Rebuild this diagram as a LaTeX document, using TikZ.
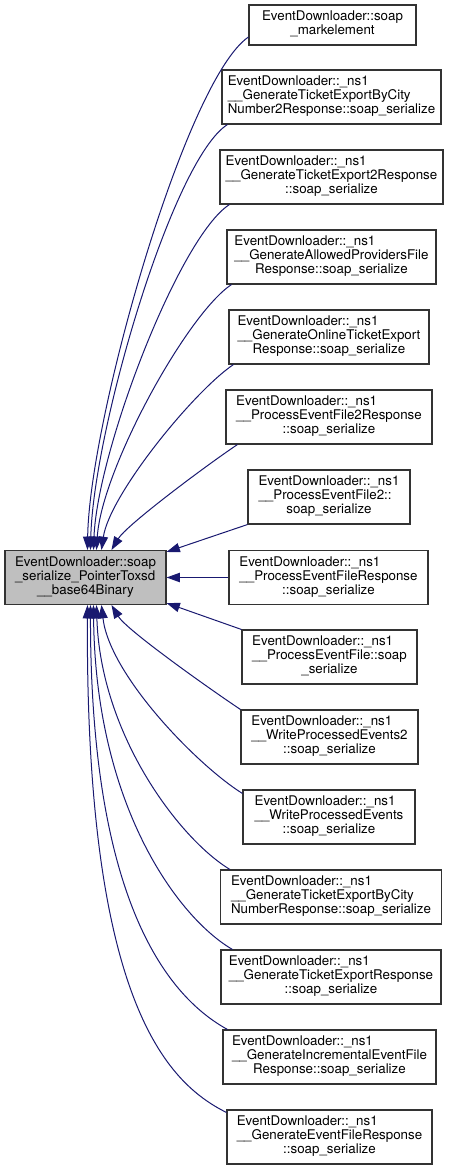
\documentclass[tikz,border=0pt]{standalone}
\usepackage{fontspec}
\setmainfont{TeX Gyre Heros}
\usetikzlibrary{arrows.meta,calc}
\definecolor{edgeblue}{HTML}{191970}
\definecolor{rootgray}{HTML}{BFBFBF}
\definecolor{boxline}{HTML}{333333}
\newcommand{\labthree}[3]{\begin{tabular}{@{}c@{}}\multicolumn{1}{@{}l@{}}{#1}\\\multicolumn{1}{@{}l@{}}{#2}\\#3\end{tabular}}
\newcommand{\evd}{EventDownloader::\_ns1}
\begin{document}
\begin{tikzpicture}[x=0.75pt,y=-0.75pt,
  box/.style={draw=boxline,line width=0.8pt,fill=white,inner sep=0pt,minimum height=40.5pt,font=\fontsize{10}{10.5}\selectfont},
  boxw/.style={minimum width=#1*0.75pt},
  conn/.style={draw=edgeblue,line width=0.75pt,-{Triangle[length=10pt,width=7pt]}}]
\useasboundingbox (0,0) rectangle (449,1171);

\node[box,boxw=161,fill=rootgray] (src) at (85.5,577.5) {\labthree{EventDownloader::soap}{\_serialize\_PointerToxsd}{\_\_base64Binary}};

\node[box,boxw=167,minimum height=30pt] (b1) at (332.5,25) {\begin{tabular}{@{}c@{}}EventDownloader::soap\\\_markelement\end{tabular}};
\node[box,boxw=219] (b2) at (331.5,97) {\labthree{\evd}{\_\_GenerateTicketExportByCity}{Number2Response::soap\_serialize}};
\node[box,boxw=223] (b3) at (331.5,177) {\labthree{\evd}{\_\_GenerateTicketExport2Response}{::soap\_serialize}};
\node[box,boxw=209] (b4) at (331.5,257) {\labthree{\evd}{\_\_GenerateAllowedProvidersFile}{Response::soap\_serialize}};
\node[box,boxw=200] (b5) at (329,337) {\labthree{\evd}{\_\_GenerateOnlineTicketExport}{Response::soap\_serialize}};
\node[box,boxw=206] (b6) at (329,417) {\labthree{\evd}{\_\_ProcessEventFile2Response}{::soap\_serialize}};
\node[box,boxw=162] (b7) at (329,497) {\labthree{\evd}{\_\_ProcessEventFile2::}{soap\_serialize}};
\node[box,boxw=199] (b8) at (328.5,577.5) {\labthree{\evd}{\_\_ProcessEventFileResponse}{::soap\_serialize}};
\node[box,boxw=175] (b9) at (329.5,657) {\labthree{\evd}{\_\_ProcessEventFile::soap}{\_serialize}};
\node[box,boxw=177] (b10) at (329.5,737) {\labthree{\evd}{\_\_WriteProcessedEvents2}{::soap\_serialize}};
\node[box,boxw=172] (b11) at (329,817) {\labthree{\evd}{\_\_WriteProcessedEvents}{::soap\_serialize}};
\node[box,boxw=221] (b12) at (331,897) {\labthree{\evd}{\_\_GenerateTicketExportByCity}{NumberResponse::soap\_serialize}};
\node[box,boxw=220] (b13) at (331,977) {\labthree{\evd}{\_\_GenerateTicketExportResponse}{::soap\_serialize}};
\node[box,boxw=213] (b14) at (329.5,1057) {\labthree{\evd}{\_\_GenerateIncrementalEventFile}{Response::soap\_serialize}};
\node[box,boxw=205] (b15) at (329.5,1137) {\labthree{\evd}{\_\_GenerateEventFileResponse}{::soap\_serialize}};

\draw[conn] ($(b1.west)+(0,12)$) .. controls +(-63,43) and +(2,-131) .. ($(src.north west)+(83,0)$);
\draw[conn] ($(b2.south west)+(6,0)$) .. controls +(-55,35) and +(3,-120) .. ($(src.north west)+(86,0)$);
\draw[conn] ($(b3.south west)+(10,0)$) .. controls +(-50,32) and +(4,-100) .. ($(src.north west)+(89,0)$);
\draw[conn] ($(b4.south west)+(5,0)$) .. controls +(-45,30) and +(5,-80) .. ($(src.north west)+(92,0)$);
\draw[conn] ($(b5.south west)+(5,0)$) .. controls +(-40,27) and +(8,-55) .. ($(src.north west)+(97,0)$);
\draw[conn] ($(b6.south west)+(12,0)$) .. controls +(-30,20) and +(15,-25) .. ($(src.north west)+(107,0)$);
\draw[conn] (b7.south west) -- ($(src.north east)+(0,2)$);
\draw[conn] (b8.west) -- (src.east);
\draw[conn] (b9.north west) -- ($(src.south east)+(0,-2)$);
\draw[conn] (b10.north west) .. controls +(-30,-20) and +(15,25) .. ($(src.south west)+(107,0)$);
\draw[conn] ($(b11.north west)+(0,4)$) .. controls +(-45,-28) and +(8,70) .. ($(src.south west)+(97,0)$);
\draw[conn] ($(b12.north west)+(10,0)$) .. controls +(-50,-30) and +(4,130) .. ($(src.south west)+(92,0)$);
\draw[conn] ($(b13.north west)+(12,0)$) .. controls +(-55,-32) and +(2,200) .. ($(src.south west)+(89,0)$);
\draw[conn] ($(b14.north west)+(5,0)$) .. controls +(-58,-32) and +(0,300) .. ($(src.south west)+(86,0)$);
\draw[conn] ($(b15.north west)+(0,3)$) .. controls +(-60,-30) and +(-2,396) .. ($(src.south west)+(83,0)$);
\end{tikzpicture}
\end{document}
